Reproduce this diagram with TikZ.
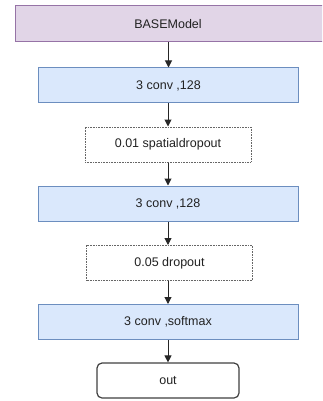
\documentclass[tikz,border=0pt]{standalone}
\usepackage{fontspec}
\setmainfont{Liberation Sans}
\usetikzlibrary{arrows.meta}
\definecolor{purplefill}{HTML}{E1D5E7}
\definecolor{purpleline}{HTML}{9673A6}
\definecolor{bluefill}{HTML}{DAE8FC}
\definecolor{blueline}{HTML}{6C8EBF}
\definecolor{dotline}{HTML}{666666}
\definecolor{txt}{HTML}{222222}
\begin{document}
\begin{tikzpicture}[x=1pt,y=-1pt,
  box/.style={rectangle,inner sep=0pt,font=\fontsize{12.5}{14}\selectfont,text=txt},
  modelbox/.style={box,fill=purplefill,draw=purpleline,line width=1pt},
  convbox/.style={box,fill=bluefill,draw=blueline,line width=1pt,minimum width=260pt,minimum height=35pt},
  dropbox/.style={box,fill=white,draw=dotline,dash pattern=on 0.8pt off 0.8pt,line width=1pt,minimum width=166pt,minimum height=35pt},
  outbox/.style={box,fill=white,draw=black!75,line width=1.2pt,rounded corners=5pt,minimum width=142pt,minimum height=35pt},
  flow/.style={draw=black!85,line width=1pt,-{Triangle[length=7pt,width=7pt]}}]
\useasboundingbox (0,0) rectangle (322,401);
\clip (0,0) rectangle (322,401);
\node[modelbox,minimum width=316pt,minimum height=36pt] (base) at (173,24) {};
\node[box] (basetxt) at (168,24) {BASEModel};
\node[convbox] (c1) at (168.5,85.5) {3 conv ,128};
\node[dropbox] (d1) at (168,144.5) {0.01 spatialdropout};
\node[convbox] (c2) at (168,203.5) {3 conv ,128};
\node[dropbox] (d2) at (169.5,263) {0.05 dropout};
\node[convbox] (c3) at (168,322) {3 conv ,softmax};
\node[outbox] (out) at (168,380.5) {out};
\draw[flow] (base.south -| c1.north) -- (c1.north);
\draw[flow] (c1.south -| d1.north) -- (d1.north);
\draw[flow] (d1.south) -- (d1.south |- c2.north);
\draw[flow] (c2.south) -- (c2.south |- d2.north);
\draw[flow] (d2.south -| c3.north) -- (c3.north);
\draw[flow] (c3.south) -- (out.north);
\end{tikzpicture}
\end{document}
